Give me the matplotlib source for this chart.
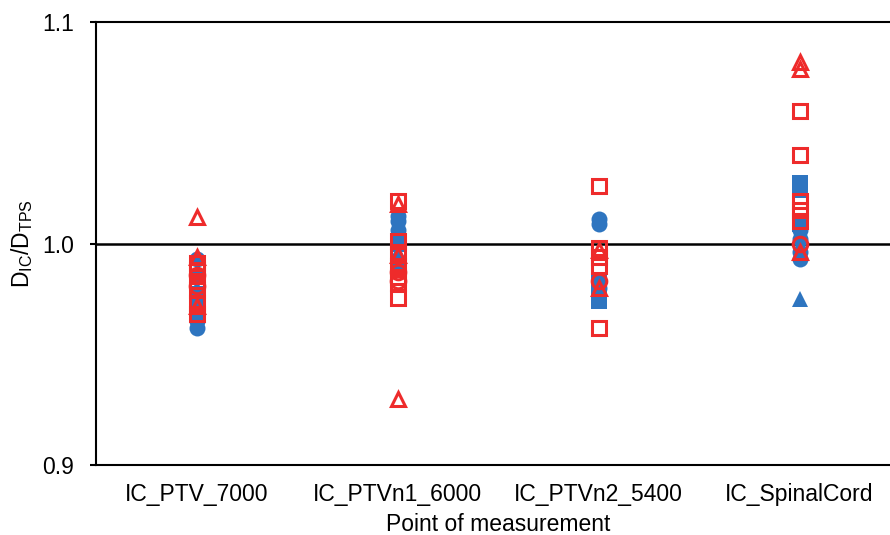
import matplotlib
matplotlib.use("Agg")
import matplotlib.pyplot as plt
from matplotlib import font_manager

categories = ["IC_PTV_7000", "IC_PTVn1_6000", "IC_PTVn2_5400", "IC_SpinalCord"]

# values per category (one list per category)
blue_circle = [[0.993, 0.962, 0.965], [1.0125, 1.010, 1.006, 1.000], [1.011, 1.009, 0.980], [1.006, 1.002, 0.996, 0.993]]
blue_square = [[0.977, 0.975, 0.985], [1.000, 0.990], [0.982, 0.977, 0.974], [1.0275, 1.024, 1.009]]
blue_triangle = [[0.980, 0.970], [0.996, 0.993], [0.977], [0.975]]
red_circle = [[0.986, 0.981], [0.987, 0.983], [0.983], [1.000]]
red_square = [[0.991, 0.988, 0.983, 0.979, 0.973, 0.968],
              [1.019, 1.001, 0.996, 0.990, 0.985, 0.982, 0.9755],
              [1.026, 0.998, 0.994, 0.990, 0.962],
              [1.060, 1.040, 1.019, 1.015, 1.010]]
red_triangle = [[1.012, 0.994, 0.972], [1.018, 0.930, 0.995], [0.980, 0.997], [1.082, 1.079, 0.996]]

yticks = [0.9, 1.0, 1.1]
ytick_labels = ["0.9", "1.0", "1.1"]

names = {f.name for f in font_manager.fontManager.ttflist}
fam = "Liberation Sans" if "Liberation Sans" in names else "DejaVu Sans"
plt.rcParams["font.family"] = [fam, "DejaVu Sans"]
plt.rcParams["mathtext.default"] = "regular"

BLUE = "#2E75C0"
RED = "#EE2B2B"

fig = plt.figure(figsize=(8.9, 5.35), dpi=100)
ax = fig.add_axes([96 / 890, 1 - 465 / 535, 804 / 890, 443 / 535])

def draw(series, marker, color, filled, ms, mew, z):
    for i, vals in enumerate(series):
        xs = [i + 1] * len(vals)
        if filled:
            ax.plot(xs, vals, linestyle="none", marker=marker, ms=ms, mfc=color,
                    mec=color, mew=0, zorder=z, clip_on=False)
        else:
            ax.plot(xs, vals, linestyle="none", marker=marker, ms=ms, mfc="none",
                    mec=color, mew=mew, zorder=z, clip_on=False)

draw(blue_circle, "o", BLUE, True, 11.5, 0, 3)
draw(blue_square, "s", BLUE, True, 11, 0, 3)
draw(blue_triangle, "^", BLUE, True, 12, 0, 3)
draw(red_square, "s", RED, False, 10, 2.2, 4)
draw(red_circle, "o", RED, False, 10.5, 2.2, 4)
draw(red_triangle, "^", RED, False, 10, 2.2, 4)

ax.axhline(1.0, color="black", lw=1.8, zorder=2)

ax.set_xlim(0.5, 4.5)
ax.set_ylim(0.9, 1.1)
ax.set_xticks(range(1, len(categories) + 1))
ax.set_xticklabels(categories)
ax.set_yticks(yticks)
ax.set_yticklabels(ytick_labels)
ax.tick_params(axis="x", length=0, pad=13, labelsize=16.5)
ax.tick_params(axis="y", length=4, width=1.5, pad=12, labelsize=16.5, direction="out")
for s in ["left", "top", "bottom", "right"]:
    ax.spines[s].set_linewidth(1.5)

ax.set_xlabel("Point of measurement", fontsize=16.5, labelpad=5)
ax.set_ylabel(r"$D_{IC}/D_{TPS}$", fontsize=16.5, labelpad=5)

fig.savefig("out.png", dpi=100)
